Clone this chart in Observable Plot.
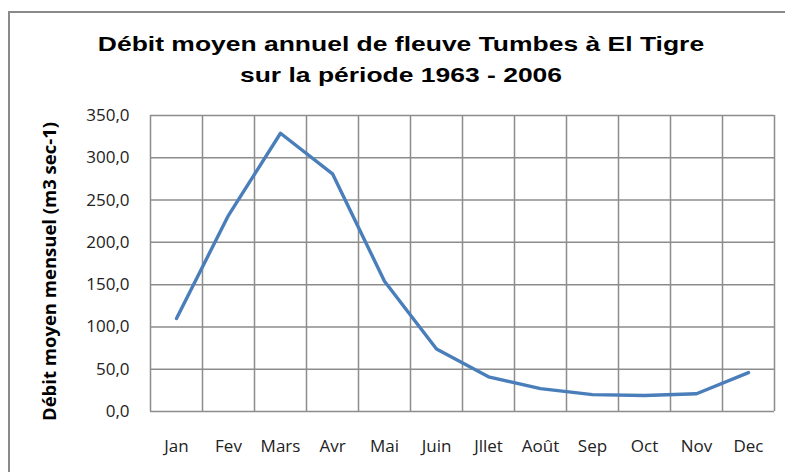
<!DOCTYPE html>
<html>
<head>
<meta charset="utf-8">
<script src="https://cdn.jsdelivr.net/npm/d3@7"></script>
<script src="https://cdn.jsdelivr.net/npm/@observablehq/plot@0.6"></script>
<style>
  html, body { margin: 0; padding: 0; background: #fff; }
  #wrap { position: relative; width: 785px; height: 472px; overflow: hidden; }
  #frame { position: absolute; left: 8px; top: 11px; width: 800px; height: 500px; border: 2px solid #8a8a8a; box-sizing: border-box; }
  #title { position: absolute; left: 0; width: 802px; top: 28px; text-align: center;
           font-family: "Liberation Sans", Arial, sans-serif; font-weight: bold; font-size: 21px; line-height: 31px; color: #000;
           transform: scaleX(1.26); transform-origin: 401px 0; }
  #chart { position: absolute; left: 0; top: 0; }
</style>
</head>
<body>
<div id="wrap">
  <div id="frame"></div>
  <div id="title">Débit moyen annuel de fleuve Tumbes à El Tigre<br>sur la période 1963 - 2006</div>
  <div id="chart"></div>
</div>
<script>
const months = ["Jan", "Fev", "Mars", "Avr", "Mai", "Juin", "Jllet", "Août", "Sep", "Oct", "Nov", "Dec"];
const debit = [110, 232, 329, 281, 154, 74, 41, 27, 20, 19, 21, 46];
const yTicks = [0, 50, 100, 150, 200, 250, 300, 350];
const yTitle = "Débit moyen mensuel (m3 sec-1)";

const data = months.map((m, i) => ({month: m, idx: i + 1, value: debit[i]}));
const boundaries = d3.range(0, months.length + 1).map(i => i + 0.5);
const fmt = d => d.toFixed(1).replace(".", ",");
const gridColor = "#8c8c8c";
const labelFont = "'Open Sans', sans-serif";

const plot = Plot.plot({
  width: 785,
  height: 472,
  marginTop: 115,
  marginLeft: 150,
  marginRight: 11,
  marginBottom: 61,
  style: {fontFamily: labelFont, background: "transparent", color: "#222"},
  x: {type: "linear", domain: [0.5, months.length + 0.5], axis: null},
  y: {domain: [0, 350], axis: null},
  marks: [
    Plot.ruleY(yTicks, {y: d => d, stroke: gridColor, strokeWidth: 1.5}),
    Plot.ruleX(boundaries, {x: d => d, stroke: gridColor, strokeWidth: 1.5}),
    Plot.text(yTicks, {y: d => d, text: fmt, frameAnchor: "left", textAnchor: "end", dx: -21, fontFamily: labelFont, fontSize: 17, fill: "#222"}),
    Plot.text(data, {x: "idx", text: "month", frameAnchor: "bottom", lineAnchor: "middle", dy: 35, fontFamily: labelFont, fontSize: 17, fill: "#222"}),
    Plot.text([yTitle], {frameAnchor: "left", dx: -100, dy: 8, rotate: -90, textAnchor: "middle", fontFamily: labelFont, fontWeight: "bold", fontSize: 18.5, fill: "#000"}),
    Plot.line(data, {x: "idx", y: "value", stroke: "#4a7ebb", strokeWidth: 3.4, strokeLinecap: "round", strokeLinejoin: "round"})
  ]
});
document.getElementById("chart").appendChild(plot);
</script>
</body>
</html>
